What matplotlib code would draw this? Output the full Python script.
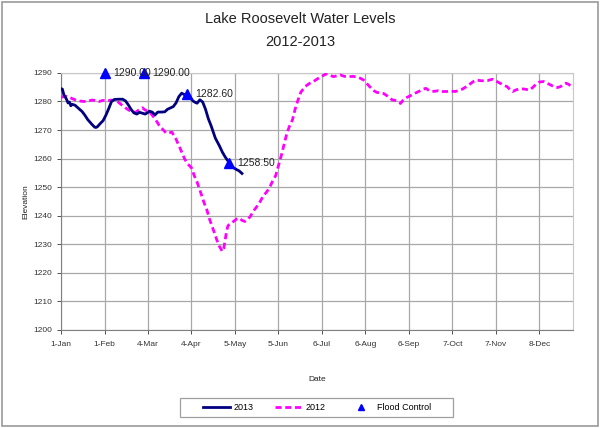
import numpy as np
import matplotlib
matplotlib.use("Agg")
import matplotlib.pyplot as plt
from matplotlib.patches import Rectangle

plt.rcParams['font.family'] = ['Liberation Sans', 'DejaVu Sans']

base = np.datetime64('2013-01-01')

# 2013 series: day offset from 1-Jan, elevation
days_2013 = [0, 1, 2, 4, 5, 6, 7, 8, 10, 12, 15, 17, 19, 22, 24, 25, 26, 28, 30, 32, 34,
             36, 38, 41, 44, 46, 48, 50, 52, 54, 56, 58, 60, 62, 63, 65, 67, 69, 72, 74,
             76, 80, 82, 84, 86, 88, 90, 92, 94, 96, 97, 99, 101, 103, 105, 107, 110,
             113, 115, 117, 119, 121, 123, 125, 127, 129]
elev_2013 = [1284.5, 1284.3, 1282.4, 1280.7, 1279.5, 1279.8, 1278.5, 1279.0, 1278.7,
             1277.8, 1276.5, 1275.2, 1273.7, 1272.0, 1271.0, 1270.9, 1271.2, 1272.3,
             1273.3, 1275.2, 1277.5, 1280.0, 1280.7, 1280.8, 1280.8, 1280.2, 1278.8,
             1277.2, 1276.0, 1275.6, 1276.2, 1275.9, 1275.6, 1276.2, 1276.6, 1276.3,
             1275.3, 1276.3, 1276.3, 1276.4, 1277.3, 1278.2, 1279.5, 1281.7, 1282.9,
             1282.4, 1282.0, 1281.5, 1280.2, 1279.6, 1279.4, 1280.6, 1279.8, 1277.3,
             1274.0, 1271.5, 1267.2, 1264.4, 1262.3, 1260.6, 1259.2, 1257.6, 1256.8,
             1256.2, 1255.7, 1254.8]

# 2012 series
days_2012 = [0, 3, 5, 8, 10, 13, 16, 19, 22, 24, 27, 30, 33, 36, 40, 43, 47, 50, 53, 56,
             58, 60, 63, 67, 70, 73, 75, 77, 79, 82, 85, 88, 90, 93, 95, 97, 100, 102,
             104, 106, 109, 111, 113, 115, 116, 117, 118, 119, 121, 123, 125, 127, 129,
             131, 133, 135, 137, 140, 142, 144, 147, 149, 151, 153, 155, 157, 159, 161,
             163, 165, 167, 169, 171, 174, 177, 180, 183, 186, 189, 192, 194, 197, 199,
             202, 205, 208, 211, 214, 216, 218, 220, 223, 225, 228, 230, 233, 236, 239,
             241, 242, 244, 246, 249, 252, 255, 258, 260, 262, 264, 267, 269, 272, 275,
             278, 281, 284, 286, 289, 292, 294, 296, 299, 302, 304, 306, 308, 310, 313,
             316, 318, 320, 322, 324, 326, 329, 331, 334, 336, 339, 341, 344, 346, 349,
             352, 354, 356, 358, 360, 362, 363, 365]
elev_2012 = [1281.5, 1281.8, 1281.7, 1281.0, 1280.6, 1280.2, 1280.0, 1280.1, 1280.5,
             1280.4, 1280.0, 1280.4, 1280.2, 1280.5, 1280.1, 1278.9, 1277.4, 1276.5,
             1276.2, 1277.2, 1277.8, 1277.0, 1276.4, 1274.0, 1271.6, 1270.0, 1268.9,
             1269.0, 1269.3, 1266.8, 1263.5, 1260.0, 1258.3, 1256.8, 1254.0, 1251.8,
             1247.5, 1244.5, 1242.0, 1238.6, 1234.5, 1231.6, 1229.2, 1227.5, 1228.5,
             1231.6, 1234.5, 1236.5, 1237.4, 1238.0, 1238.8, 1239.2, 1238.4, 1238.0,
             1238.6, 1239.8, 1241.5, 1243.5, 1245.0, 1246.8, 1248.6, 1250.2, 1252.3,
             1254.0, 1257.5, 1261.0, 1265.0, 1268.9, 1271.5, 1273.6, 1277.5, 1280.6,
             1283.3, 1285.2, 1286.3, 1287.0, 1288.0, 1288.8, 1289.7, 1289.2, 1288.7,
             1289.0, 1289.3, 1288.8, 1288.7, 1288.8, 1288.6, 1288.0, 1287.4, 1286.3,
             1285.2, 1283.8, 1283.2, 1283.0, 1282.8, 1281.8, 1280.6, 1280.3, 1279.7,
             1279.3, 1280.5, 1281.3, 1282.0, 1282.8, 1283.5, 1284.3, 1284.6, 1284.0,
             1283.5, 1283.6, 1283.8, 1283.5, 1283.5, 1283.6, 1283.5, 1283.9, 1284.3,
             1285.2, 1286.3, 1287.0, 1287.5, 1287.3, 1287.2, 1287.3, 1287.6, 1287.8,
             1287.2, 1286.4, 1285.6, 1285.2, 1284.2, 1283.5, 1284.0, 1284.3, 1284.4,
             1284.3, 1284.0, 1284.8, 1286.2, 1286.8, 1287.0, 1286.5, 1285.8, 1285.0,
             1284.9, 1285.2, 1285.8, 1286.4, 1286.0, 1285.5, 1284.6]

# Flood control targets
flood_days = [31, 59, 90, 120]
flood_elev = [1290.00, 1290.00, 1282.60, 1258.50]

# Axis ticks
tick_dates = ['2013-01-01', '2013-02-01', '2013-03-04', '2013-04-04', '2013-05-05',
              '2013-06-05', '2013-07-06', '2013-08-06', '2013-09-06', '2013-10-07',
              '2013-11-07', '2013-12-08']
tick_labels = ['1-Jan', '1-Feb', '4-Mar', '4-Apr', '5-May', '5-Jun', '6-Jul', '6-Aug',
               '6-Sep', '7-Oct', '7-Nov', '8-Dec']
y_ticks = list(range(1200, 1291, 10))

x13 = base + np.array(days_2013).astype('timedelta64[D]')
x12 = base + np.array(days_2012).astype('timedelta64[D]')
xf = base + np.array(flood_days).astype('timedelta64[D]')

fig = plt.figure(figsize=(6.0, 4.28), dpi=100)
ax = fig.add_axes([0.1017, 0.229, 0.8533, 0.6006])

grid_c = '#a8a8a8'
l13, = ax.plot(x13, elev_2013, color='#000080', lw=2.0, label='2013', zorder=4,
               solid_joinstyle='round')
l12, = ax.plot(x12, elev_2012, color='#ff00ff', lw=2.0, ls=(0, (2.2, 1.3)),
               label='2012', zorder=3)
fc, = ax.plot(xf, flood_elev, ls='none', marker='^', color='#0000ff', ms=7,
              label='Flood Control', zorder=5, clip_on=False)
for d, v in zip(xf, flood_elev):
    ax.annotate(f'{v:.2f}', (d, v), xytext=(6, 0), textcoords='offset points',
                va='center', ha='left', fontsize=7.5, color='#222222', zorder=6)

ax.set_xlim(base, base + np.timedelta64(365, 'D'))
ax.set_ylim(1200, 1290)
ax.set_xticks(np.array(tick_dates, dtype='datetime64[D]'))
ax.set_xticklabels(tick_labels)
ax.set_yticks(y_ticks)
ax.tick_params(axis='both', labelsize=6, colors='#333333', length=3, width=0.6,
               direction='out')
ax.tick_params(axis='x', pad=5)
ax.grid(True, color=grid_c, lw=0.9)
ax.set_axisbelow(True)
for s in ['top', 'right']:
    ax.spines[s].set_color('#c8c8c8')
    ax.spines[s].set_linewidth(0.8)
for s in ['left', 'bottom']:
    ax.spines[s].set_color('#808080')
    ax.spines[s].set_linewidth(0.8)

ax.set_ylabel('Elevation', fontsize=6, color='#222222', labelpad=3)
ax.set_xlabel('Date', fontsize=6, color='#222222', labelpad=20)

fig.text(0.5, 0.956, 'Lake Roosevelt Water Levels', ha='center', va='center',
         fontsize=10.5, color='#222222')
fig.text(0.5, 0.903, '2012-2013', ha='center', va='center', fontsize=10.5,
         color='#222222')

leg = fig.legend(handles=[l13, l12, fc], loc='center', bbox_to_anchor=(0.529, 0.047),
                 ncol=3, fontsize=6.5, frameon=False,
                 handlelength=3.0, columnspacing=2.4, handletextpad=0.35,
                 borderpad=0.3, markerscale=0.6)

# legend frame and figure border
fig.patches.append(Rectangle((180 / 600, 1 - 417 / 428), 273 / 600, 19 / 428,
                             transform=fig.transFigure, fill=False,
                             edgecolor='#a0a0a0', lw=0.9))
fig.patches.append(Rectangle((0.004, 0.004), 0.992, 0.992, transform=fig.transFigure,
                             fill=False, edgecolor='#999999', lw=1.2))

fig.savefig('out.png', dpi=100)
